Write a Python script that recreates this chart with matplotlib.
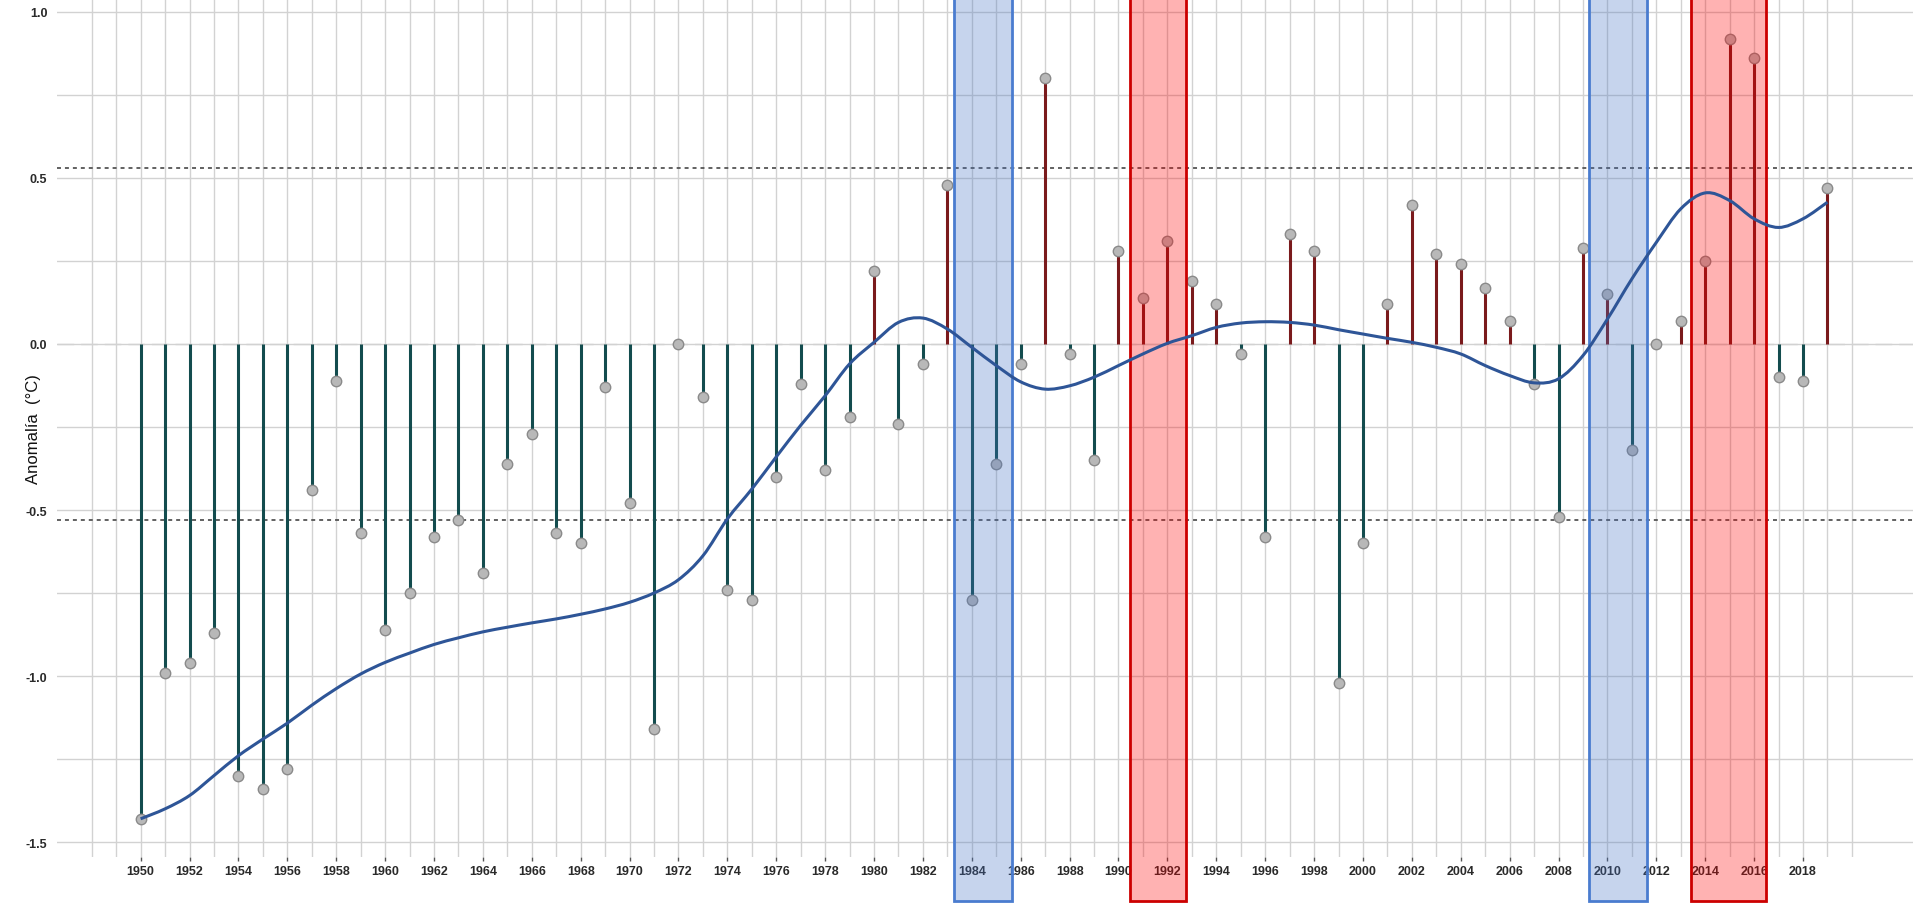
import numpy as np
import matplotlib.pyplot as plt
import matplotlib.transforms as mtransforms
from matplotlib.patches import Rectangle, PathPatch
from matplotlib.path import Path

plt.rcParams["font.family"] = ["Liberation Sans", "DejaVu Sans"]
plt.rcParams["axes.unicode_minus"] = False

years = list(range(1950, 2020))

# annual anomaly (°C)
anomaly = [
    -1.43, -0.99, -0.96, -0.87, -1.30, -1.34, -1.28, -0.44, -0.11, -0.57,
    -0.86, -0.75, -0.58, -0.53, -0.69, -0.36, -0.27, -0.57, -0.60, -0.13,
    -0.48, -1.16, 0.00, -0.16, -0.74, -0.77, -0.40, -0.12, -0.38, -0.22,
    0.22, -0.24, -0.06, 0.48, -0.77, -0.36, -0.06, 0.80, -0.03, -0.35,
    0.28, 0.14, 0.31, 0.19, 0.12, -0.03, -0.58, 0.33, 0.28, -1.02,
    -0.60, 0.12, 0.42, 0.27, 0.24, 0.17, 0.07, -0.12, -0.52, 0.29,
    0.15, -0.32, 0.00, 0.07, 0.25, 0.92, 0.86, -0.10, -0.11, 0.47,
]

# smoothed trend, read at each year
trend = [
    -1.43, -1.40, -1.36, -1.30, -1.24, -1.19, -1.142, -1.088, -1.038, -0.994,
    -0.959, -0.931, -0.905, -0.885, -0.867, -0.853, -0.84, -0.828, -0.814, -0.798,
    -0.778, -0.75, -0.71, -0.638, -0.527, -0.437, -0.34, -0.245, -0.156, -0.06,
    0.005, 0.065, 0.078, 0.045, -0.01, -0.065, -0.114, -0.136, -0.126, -0.10,
    -0.065, -0.03, 0.002, 0.025, 0.05, 0.063, 0.067, 0.065, 0.057, 0.043,
    0.03, 0.017, 0.005, -0.01, -0.03, -0.065, -0.095, -0.117, -0.105, -0.035,
    0.075, 0.196, 0.306, 0.407, 0.455, 0.432, 0.377, 0.351, 0.377, 0.427,
]

limit_hi = 0.53
limit_lo = -0.53

# highlighted periods (start, end)
cold_periods = [(1983.28, 1985.66), (2009.24, 2011.6)]
warm_periods = [(1990.47, 1992.75), (2013.4, 2016.5)]

fig = plt.figure(figsize=(19.13, 9.04), dpi=100)
ax = fig.add_axes([0.0298, 0.0509, 0.9702, 0.9491])

ax.set_xlim(1946.58, 2022.5)
ax.set_ylim(-1.545, 1.039)

ax.set_xticks(range(1950, 2019, 2))
ax.set_xticks(range(1948, 2021), minor=True)
ax.set_yticks(np.arange(-1.5, 1.01, 0.5))
ax.set_yticks(np.arange(-1.5, 1.01, 0.25), minor=True)
ax.set_yticklabels(["%.1f" % v for v in np.arange(-1.5, 1.01, 0.5)])

ax.grid(True, which="both", color="#d2d2d2", linewidth=1.0, zorder=0)
ax.set_axisbelow(True)
ax.axhline(0, color="white", linewidth=1.4, zorder=0.5)
ax.axhline(0, color="#d2d2d2", linewidth=1.0, dashes=(12, 5), zorder=0.6)

for s in ax.spines.values():
    s.set_visible(False)

ax.tick_params(axis="y", which="both", length=0, pad=7, labelsize=9, labelcolor="#2a2a2a")
ax.tick_params(axis="x", which="major", length=3, width=1, color="#555555", pad=3,
               labelsize=9, labelcolor="#2a2a2a")
ax.tick_params(axis="x", which="minor", length=0)
for lab in ax.get_xticklabels() + ax.get_yticklabels():
    lab.set_fontweight("bold")

ax.axhline(limit_hi, color="#555555", linewidth=1.3, linestyle=(0, (2.2, 2.2)), zorder=2)
ax.axhline(limit_lo, color="#555555", linewidth=1.3, linestyle=(0, (2.2, 2.2)), zorder=2)

# stems
for yr, v in zip(years, anomaly):
    c = "#7a1a1c" if v > 0 else "#134c4e"
    ax.plot([yr, yr], [0, v], color=c, linewidth=2.2, solid_capstyle="butt", zorder=3)
ax.plot(years, anomaly, linestyle="none", marker="o", markersize=7.5,
        markerfacecolor="#b8b8b8", markeredgecolor="#8a8a8a", markeredgewidth=1.0, zorder=4)

# shaded periods spanning full figure height
trans = mtransforms.blended_transform_factory(ax.transData, fig.transFigure)
for a, b in cold_periods:
    ax.add_patch(Rectangle((a, 0.002), b - a, 1.1, transform=trans, clip_on=False,
                           facecolor=(0.267, 0.447, 0.769, 0.3), edgecolor="#4a7ccf",
                           linewidth=2.0, zorder=5))
for a, b in warm_periods:
    ax.add_patch(Rectangle((a, 0.002), b - a, 1.1, transform=trans, clip_on=False,
                           facecolor=(1.0, 0.0, 0.0, 0.3), edgecolor="#cc0000",
                           linewidth=2.0, zorder=5))

# trend drawn as a smooth bezier path through the read points (catmull-rom)
px = np.array(years, dtype=float)
py = np.array(trend)
verts = [(px[0], py[0])]
codes = [Path.MOVETO]
for i in range(len(px) - 1):
    p0 = (px[max(i - 1, 0)], py[max(i - 1, 0)])
    p1 = (px[i], py[i])
    p2 = (px[i + 1], py[i + 1])
    p3 = (px[min(i + 2, len(px) - 1)], py[min(i + 2, len(px) - 1)])
    c1 = (p1[0] + (p2[0] - p0[0]) / 6, p1[1] + (p2[1] - p0[1]) / 6)
    c2 = (p2[0] - (p3[0] - p1[0]) / 6, p2[1] - (p3[1] - p1[1]) / 6)
    verts += [c1, c2, p2]
    codes += [Path.CURVE4] * 3
ax.add_patch(PathPatch(Path(verts, codes), facecolor="none", edgecolor="#2e5597",
                       linewidth=2.2, zorder=6))

ax.set_ylabel("Anomalía  (°C)", fontsize=12, color="#111111", labelpad=8)
ax.yaxis.set_label_coords(-16 / 1856, 0.5)

plt.savefig("out.png", dpi=100)
